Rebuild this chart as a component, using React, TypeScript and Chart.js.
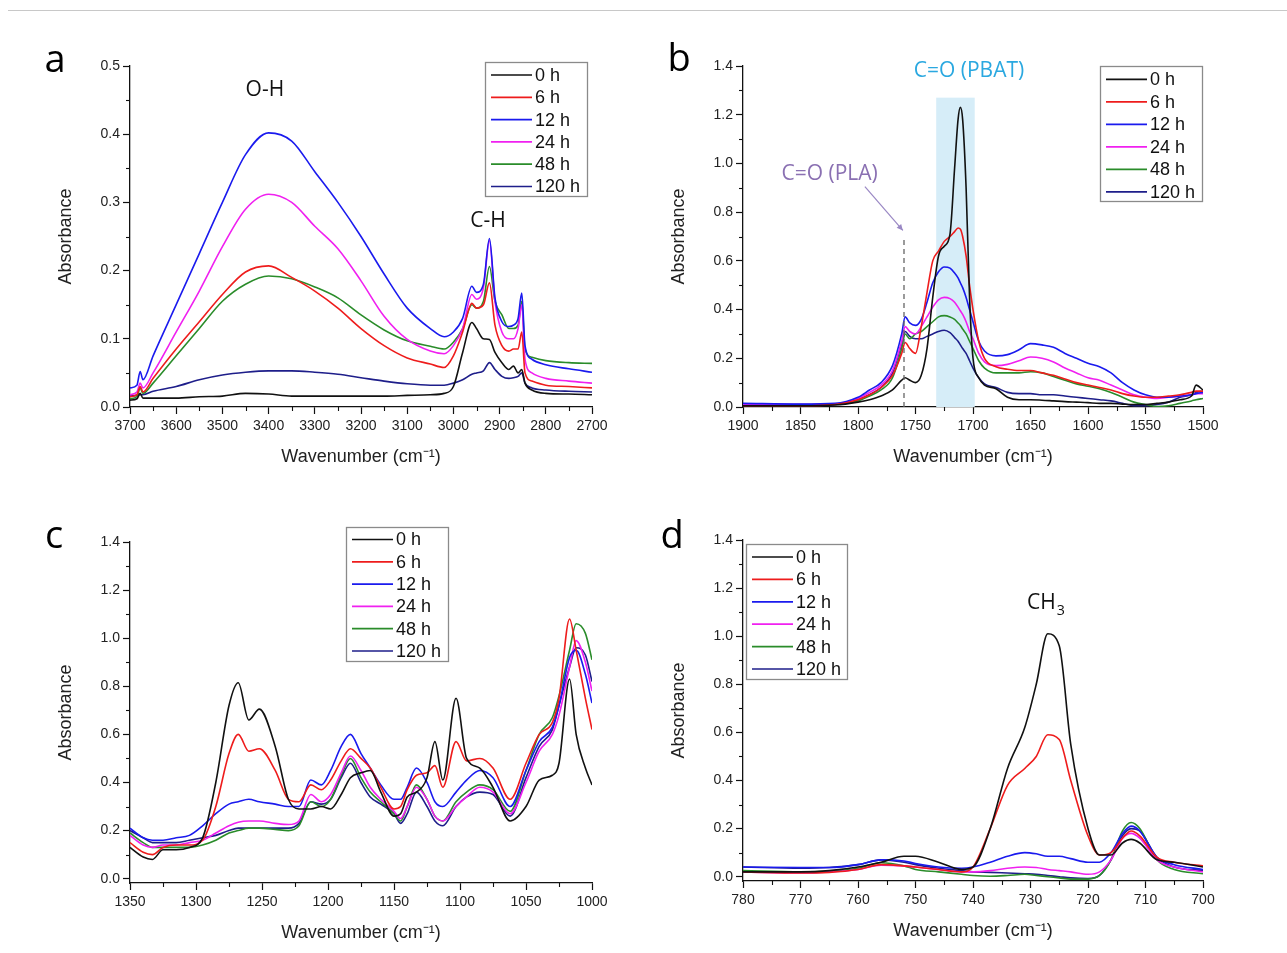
import React, { useEffect, useRef } from 'react';
import { Chart, registerables } from 'chart.js';
Chart.register(...registerables);

const FONT = "'Liberation Sans', Arial, sans-serif";
const ANNOT_FONT = "'Open Sans', 'Noto Sans', sans-serif";

const SERIES_LABELS = ['0 h', '6 h', '12 h', '24 h', '48 h', '120 h'];
const SERIES_COLORS = ['#111111', '#ee1c1c', '#1a1aee', '#f020f0', '#2a8c2a', '#1e1e8a'];

// ---------- Panel a : 3700-2700 cm-1 ----------
const A_WAVENUMBER = [3700, 3685, 3678, 3672, 3650, 3600, 3550, 3500, 3450, 3400, 3350, 3300, 3250, 3200, 3150, 3100, 3050, 3020, 3000, 2980, 2960, 2950, 2935, 2922, 2910, 2895, 2880, 2870, 2860, 2852, 2845, 2830, 2800, 2750, 2700];
const A_0H = [0.01, 0.012, 0.02, 0.013, 0.013, 0.013, 0.015, 0.016, 0.02, 0.019, 0.016, 0.016, 0.016, 0.016, 0.016, 0.017, 0.018, 0.02, 0.03, 0.08, 0.124, 0.115, 0.1, 0.099, 0.08, 0.065, 0.055, 0.06, 0.05, 0.055, 0.035, 0.025, 0.02, 0.019, 0.018];
const A_6H = [0.015, 0.018, 0.03, 0.022, 0.042, 0.085, 0.125, 0.165, 0.198, 0.207, 0.19, 0.17, 0.145, 0.115, 0.09, 0.072, 0.063, 0.058, 0.075, 0.11, 0.152, 0.145, 0.15, 0.182, 0.12, 0.09, 0.082, 0.085, 0.085, 0.11, 0.05, 0.038, 0.032, 0.03, 0.028];
const A_12H = [0.028, 0.032, 0.052, 0.04, 0.075, 0.15, 0.225, 0.3, 0.37, 0.402, 0.39, 0.345, 0.3, 0.25, 0.195, 0.145, 0.115, 0.103, 0.11, 0.13, 0.177, 0.168, 0.18, 0.247, 0.16, 0.125, 0.118, 0.12, 0.13, 0.167, 0.09, 0.07, 0.062, 0.056, 0.051];
const A_24H = [0.018, 0.022, 0.035, 0.028, 0.05, 0.11, 0.17, 0.235, 0.29, 0.312, 0.3, 0.265, 0.232, 0.185, 0.133, 0.099, 0.082, 0.078, 0.09, 0.115, 0.165, 0.158, 0.175, 0.244, 0.155, 0.11, 0.1, 0.1, 0.115, 0.15, 0.07, 0.05, 0.042, 0.038, 0.035];
const A_48H = [0.012, 0.015, 0.028, 0.02, 0.035, 0.075, 0.115, 0.155, 0.18, 0.192, 0.188, 0.176, 0.16, 0.135, 0.113, 0.097, 0.089, 0.085, 0.095, 0.115, 0.15, 0.145, 0.155, 0.206, 0.155, 0.135, 0.115, 0.115, 0.12, 0.155, 0.085, 0.073, 0.068, 0.065, 0.064];
const A_120H = [0.016, 0.017, 0.018, 0.018, 0.023, 0.03, 0.04, 0.047, 0.051, 0.053, 0.053, 0.051, 0.048, 0.043, 0.038, 0.034, 0.032, 0.032, 0.035, 0.04, 0.048, 0.05, 0.053, 0.065, 0.055, 0.045, 0.042, 0.043, 0.045, 0.05, 0.035, 0.028, 0.025, 0.023, 0.022];
const A_X_TICKS = [3700, 3600, 3500, 3400, 3300, 3200, 3100, 3000, 2900, 2800, 2700];
const A_Y_TICKS = [0, 0.1, 0.2, 0.3, 0.4, 0.5];

// ---------- Panel b : 1900-1500 cm-1 ----------
const B_WAVENUMBER = [1900, 1850, 1820, 1800, 1790, 1780, 1770, 1762, 1759, 1755, 1750, 1745, 1740, 1735, 1730, 1725, 1720, 1716, 1713, 1711, 1709, 1706, 1703, 1700, 1695, 1690, 1680, 1670, 1660, 1650, 1640, 1630, 1620, 1610, 1600, 1590, 1580, 1570, 1560, 1550, 1540, 1530, 1520, 1510, 1506, 1500];
const B_0H = [0.005, 0.005, 0.008, 0.02, 0.03, 0.045, 0.07, 0.11, 0.12, 0.11, 0.1, 0.13, 0.24, 0.45, 0.62, 0.66, 0.71, 0.98, 1.18, 1.23, 1.18, 0.9, 0.45, 0.2, 0.12, 0.09, 0.075, 0.04, 0.03, 0.03, 0.028, 0.025, 0.022, 0.02, 0.018, 0.015, 0.015, 0.012, 0.01, 0.01, 0.015, 0.02, 0.03, 0.045, 0.09, 0.07];
const B_6H = [0.005, 0.005, 0.01, 0.03, 0.05, 0.08, 0.13, 0.22, 0.265, 0.24, 0.22, 0.33, 0.47, 0.6, 0.64, 0.68, 0.7, 0.72, 0.735, 0.73, 0.7, 0.62, 0.5, 0.4, 0.27, 0.2, 0.165, 0.155, 0.15, 0.15, 0.14, 0.13, 0.115, 0.1, 0.09, 0.08, 0.07, 0.055, 0.045, 0.04, 0.04, 0.045, 0.05, 0.06, 0.065, 0.065];
const B_12H = [0.015, 0.012, 0.015, 0.04, 0.07, 0.1, 0.17, 0.3, 0.37, 0.345, 0.335, 0.36, 0.43, 0.51, 0.555, 0.575, 0.57, 0.55, 0.53, 0.51, 0.49, 0.45, 0.4, 0.35, 0.27, 0.23, 0.21, 0.215, 0.235, 0.26, 0.255, 0.245, 0.22, 0.2, 0.18, 0.165, 0.14, 0.1, 0.07, 0.05, 0.04, 0.04, 0.045, 0.05, 0.055, 0.06];
const B_24H = [0.01, 0.01, 0.012, 0.035, 0.06, 0.09, 0.15, 0.27, 0.33, 0.31, 0.3, 0.33, 0.37, 0.41, 0.44, 0.45, 0.445, 0.43, 0.41, 0.395, 0.38, 0.35, 0.31, 0.28, 0.22, 0.185, 0.17, 0.175, 0.19, 0.205, 0.2, 0.185, 0.16, 0.14, 0.12, 0.11, 0.09, 0.07, 0.05, 0.04, 0.035, 0.04, 0.045, 0.05, 0.055, 0.055];
const B_48H = [0.008, 0.008, 0.01, 0.025, 0.045, 0.07, 0.12, 0.24, 0.3, 0.28, 0.3, 0.31, 0.33, 0.35, 0.37, 0.375, 0.37, 0.36, 0.345, 0.335, 0.32, 0.3, 0.27, 0.24, 0.19, 0.16, 0.14, 0.14, 0.14, 0.145, 0.14, 0.125, 0.11, 0.095, 0.085, 0.075, 0.06, 0.04, 0.02, 0.01, 0.002, 0.005, 0.015, 0.025, 0.03, 0.035];
const B_120H = [0.01, 0.01, 0.012, 0.03, 0.05, 0.08, 0.14, 0.26, 0.31, 0.29, 0.28, 0.28, 0.29, 0.3, 0.31, 0.315, 0.305, 0.285, 0.27, 0.255, 0.24, 0.22, 0.19, 0.16, 0.12, 0.095, 0.08, 0.06, 0.055, 0.055, 0.05, 0.05, 0.045, 0.04, 0.035, 0.03, 0.025, 0.015, 0.005, 0.005, 0.01, 0.02, 0.04, 0.05, 0.06, 0.065];
const B_X_TICKS = [1900, 1850, 1800, 1750, 1700, 1650, 1600, 1550, 1500];
const B_Y_TICKS = [0, 0.2, 0.4, 0.6, 0.8, 1.0, 1.2, 1.4];
const B_PBAT_BAND = [1732, 1698.5];
const B_PBAT_BAND_TOP = 1.27;
const B_PLA_LINE = 1760;
const B_PLA_LINE_TOP = 0.7;

// ---------- Panel c : 1350-1000 cm-1 ----------
const C_WAVENUMBER = [1350, 1340, 1333, 1325, 1315, 1305, 1295, 1285, 1275, 1268, 1260, 1252, 1240, 1230, 1222, 1213, 1205, 1198, 1190, 1183, 1175, 1168, 1160, 1150, 1145, 1140, 1133, 1125, 1119, 1113, 1103, 1095, 1085, 1075, 1062, 1050, 1040, 1030, 1025, 1017, 1012, 1005, 1000];
const C_0H = [0.13, 0.09, 0.08, 0.12, 0.12, 0.13, 0.17, 0.4, 0.72, 0.815, 0.66, 0.705, 0.55, 0.33, 0.29, 0.29, 0.3, 0.29, 0.35, 0.42, 0.44, 0.45, 0.36, 0.26, 0.27, 0.34, 0.36, 0.42, 0.57, 0.41, 0.75, 0.5, 0.46, 0.38, 0.24, 0.3, 0.41, 0.43, 0.48, 0.83, 0.6, 0.46, 0.39];
const C_6H = [0.15, 0.11, 0.1, 0.13, 0.14, 0.14, 0.16, 0.3, 0.52, 0.6, 0.53, 0.54, 0.45, 0.33, 0.32, 0.39, 0.37, 0.41, 0.49, 0.54, 0.5, 0.46, 0.38, 0.29, 0.3, 0.37, 0.43, 0.44, 0.47, 0.38, 0.57, 0.49, 0.5, 0.46, 0.33, 0.48, 0.6, 0.65, 0.75, 1.08, 0.95, 0.75, 0.62];
const C_12H = [0.21, 0.17, 0.16, 0.16, 0.17, 0.18, 0.22, 0.27, 0.31, 0.32, 0.33, 0.32, 0.31, 0.3, 0.3, 0.41, 0.39, 0.45, 0.55, 0.6, 0.52, 0.46, 0.39, 0.33, 0.33, 0.38, 0.46, 0.4, 0.32, 0.3, 0.36, 0.41, 0.45, 0.42, 0.3, 0.45, 0.57, 0.63, 0.72, 0.92, 0.95, 0.85, 0.73];
const C_24H = [0.18, 0.14, 0.13, 0.14, 0.14, 0.15, 0.16, 0.19, 0.22, 0.235, 0.24, 0.24, 0.23, 0.225, 0.24, 0.35, 0.32, 0.35, 0.44, 0.51, 0.45, 0.38, 0.33, 0.28, 0.25, 0.3, 0.38, 0.33, 0.26, 0.24, 0.3, 0.34, 0.38, 0.36, 0.27, 0.4, 0.53, 0.6, 0.68, 0.88, 0.99, 0.9, 0.78];
const C_48H = [0.19, 0.15, 0.13, 0.13, 0.13, 0.13, 0.14, 0.16, 0.19, 0.2, 0.21, 0.21, 0.205, 0.2, 0.22, 0.32, 0.3, 0.33, 0.43, 0.5, 0.42, 0.36, 0.32, 0.27, 0.24, 0.3, 0.39, 0.33, 0.26, 0.24, 0.32, 0.36, 0.39, 0.37, 0.28, 0.45, 0.6, 0.67, 0.76, 0.95, 1.06, 1.02, 0.91];
const C_120H = [0.2, 0.17, 0.15, 0.15, 0.15, 0.16, 0.17, 0.18, 0.2, 0.21, 0.21, 0.21, 0.21, 0.21, 0.23, 0.32, 0.31, 0.33, 0.42, 0.48, 0.4, 0.34, 0.31, 0.27, 0.23, 0.27, 0.36, 0.3, 0.24, 0.22, 0.3, 0.34, 0.36, 0.35, 0.26, 0.42, 0.55, 0.62, 0.72, 0.88, 0.96, 0.93, 0.82];
const C_X_TICKS = [1350, 1300, 1250, 1200, 1150, 1100, 1050, 1000];
const C_Y_TICKS = [0, 0.2, 0.4, 0.6, 0.8, 1.0, 1.2, 1.4];

// ---------- Panel d : 780-700 cm-1 ----------
const D_WAVENUMBER = [780, 770, 765, 760, 756, 752, 750, 746, 742, 740, 737, 734, 731, 729, 727, 725, 723, 720, 718, 716, 714, 712.5, 711, 708, 705, 700];
const D_0H = [0.02, 0.02, 0.025, 0.04, 0.06, 0.085, 0.085, 0.06, 0.03, 0.04, 0.2, 0.45, 0.62, 0.8, 1.01, 0.96, 0.55, 0.2, 0.09, 0.09, 0.14, 0.155, 0.14, 0.07, 0.06, 0.04];
const D_6H = [0.02, 0.015, 0.018, 0.03, 0.05, 0.045, 0.04, 0.03, 0.02, 0.04, 0.2, 0.38, 0.45, 0.5, 0.59, 0.57, 0.4, 0.17, 0.09, 0.1, 0.16, 0.19, 0.17, 0.08, 0.06, 0.045];
const D_12H = [0.04, 0.038, 0.038, 0.05, 0.07, 0.065, 0.055, 0.04, 0.035, 0.04, 0.06, 0.085, 0.1, 0.095, 0.085, 0.085, 0.075, 0.06, 0.06, 0.1, 0.18, 0.21, 0.19, 0.08, 0.05, 0.03];
const D_24H = [0.02, 0.015, 0.02, 0.03, 0.048, 0.045, 0.04, 0.03, 0.02, 0.02, 0.025, 0.035, 0.04, 0.038, 0.03, 0.025, 0.02, 0.01, 0.02, 0.07, 0.16, 0.18, 0.16, 0.07, 0.04, 0.02];
const D_48H = [0.025, 0.02, 0.022, 0.035, 0.058, 0.045, 0.03, 0.02, 0.01, 0.005, 0.002, 0.005, 0.01, 0.005, 0.0, -0.005, -0.01, -0.01, 0.005, 0.07, 0.19, 0.225, 0.2, 0.07, 0.03, 0.012];
const D_120H = [0.04, 0.035, 0.038, 0.05, 0.07, 0.06, 0.05, 0.035, 0.025, 0.02, 0.018, 0.015, 0.012, 0.01, 0.005, 0.0, -0.005, -0.008, 0.005, 0.07, 0.17, 0.2, 0.19, 0.08, 0.04, 0.025];
const D_X_TICKS = [780, 770, 760, 750, 740, 730, 720, 710, 700];
const D_Y_TICKS = [0, 0.2, 0.4, 0.6, 0.8, 1.0, 1.2, 1.4];

const minorBetween = (majors: number[]) => {
  const out: number[] = [];
  for (let i = 0; i < majors.length - 1; i++) out.push((majors[i] + majors[i + 1]) / 2);
  return out;
};

const decorPlugin = {
  id: 'decor',
  beforeDatasetsDraw(chart: any, _a: any, opts: any) {
    const { ctx } = chart;
    const xs = chart.scales.x, ys = chart.scales.y;
    if (opts.band) {
      const x1 = xs.getPixelForValue(opts.band.from), x2 = xs.getPixelForValue(opts.band.to);
      const y1 = ys.getPixelForValue(opts.band.top), y2 = ys.getPixelForValue(0);
      ctx.save();
      ctx.fillStyle = '#d6edf8';
      ctx.fillRect(Math.min(x1, x2), y1, Math.abs(x2 - x1), y2 - y1);
      ctx.restore();
    }
  },
  afterDatasetsDraw(chart: any, _a: any, opts: any) {
    const { ctx } = chart;
    const xs = chart.scales.x, ys = chart.scales.y;
    ctx.save();
    if (opts.vline) {
      const x = xs.getPixelForValue(opts.vline.x);
      ctx.strokeStyle = '#666';
      ctx.lineWidth = 1.3;
      ctx.setLineDash([5, 4]);
      ctx.beginPath();
      ctx.moveTo(x, ys.getPixelForValue(0));
      ctx.lineTo(x, ys.getPixelForValue(opts.vline.top));
      ctx.stroke();
      ctx.setLineDash([]);
    }
    if (opts.arrow) {
      const a = opts.arrow;
      const x1 = xs.getPixelForValue(a.x1), y1 = ys.getPixelForValue(a.y1);
      const x2 = xs.getPixelForValue(a.x2), y2 = ys.getPixelForValue(a.y2);
      ctx.strokeStyle = a.color; ctx.fillStyle = a.color; ctx.lineWidth = 1.2;
      ctx.beginPath(); ctx.moveTo(x1, y1); ctx.lineTo(x2, y2); ctx.stroke();
      const ang = Math.atan2(y2 - y1, x2 - x1);
      const L = 6, W = 3;
      ctx.beginPath();
      ctx.moveTo(x2, y2);
      ctx.lineTo(x2 - L * Math.cos(ang) + W * Math.sin(ang), y2 - L * Math.sin(ang) - W * Math.cos(ang));
      ctx.lineTo(x2 - L * Math.cos(ang) - W * Math.sin(ang), y2 - L * Math.sin(ang) + W * Math.cos(ang));
      ctx.closePath(); ctx.fill();
    }
    ctx.restore();
  },
  afterDraw(chart: any, _a: any, opts: any) {
    const { ctx, chartArea } = chart;
    const xs = chart.scales.x, ys = chart.scales.y;
    ctx.save();
    // minor ticks
    ctx.strokeStyle = '#111'; ctx.lineWidth = 1.1;
    (opts.minorX || []).forEach((v: number) => {
      const x = Math.round(xs.getPixelForValue(v)) + 0.5;
      ctx.beginPath(); ctx.moveTo(x, chartArea.bottom); ctx.lineTo(x, chartArea.bottom + 4); ctx.stroke();
    });
    (opts.minorY || []).forEach((v: number) => {
      const y = Math.round(ys.getPixelForValue(v)) + 0.5;
      ctx.beginPath(); ctx.moveTo(chartArea.left, y); ctx.lineTo(chartArea.left - 4, y); ctx.stroke();
    });
    // annotations (data coordinates)
    (opts.texts || []).forEach((t: any) => {
      const x = xs.getPixelForValue(t.x), y = ys.getPixelForValue(t.y);
      ctx.fillStyle = t.color;
      ctx.font = `${t.size}px ${ANNOT_FONT}`;
      ctx.textBaseline = 'middle';
      if (t.sub) {
        const w1 = ctx.measureText(t.text).width;
        ctx.font = `${t.size * 0.68}px ${ANNOT_FONT}`;
        const w2 = ctx.measureText(t.sub).width;
        const x0 = x - (w1 + w2) / 2;
        ctx.font = `${t.size}px ${ANNOT_FONT}`;
        ctx.textAlign = 'left';
        ctx.fillText(t.text, x0, y);
        ctx.font = `${t.size * 0.68}px ${ANNOT_FONT}`;
        ctx.fillText(t.sub, x0 + w1 + 1, y + t.size * 0.35);
      } else {
        ctx.textAlign = 'center';
        ctx.fillText(t.text, x, y);
      }
    });
    // legend box
    if (opts.legendBox) {
      const lb = opts.legendBox;
      const bx = chartArea.left + lb.dx, by = chartArea.top + lb.dy;
      ctx.fillStyle = '#ffffff';
      ctx.fillRect(bx, by, lb.w, lb.h);
      ctx.strokeStyle = '#8a8a8a'; ctx.lineWidth = 1.3;
      ctx.strokeRect(bx + 0.5, by + 0.5, lb.w, lb.h);
      ctx.font = `18px ${FONT}`;
      ctx.textBaseline = 'middle'; ctx.textAlign = 'left';
      chart.data.datasets.forEach((ds: any, i: number) => {
        const cy = by + lb.first + i * lb.row;
        ctx.strokeStyle = ds.borderColor; ctx.lineWidth = 1.7;
        ctx.beginPath(); ctx.moveTo(bx + 6, cy); ctx.lineTo(bx + 47, cy); ctx.stroke();
        ctx.fillStyle = '#111';
        ctx.fillText(ds.label, bx + 50, cy + 1);
      });
    }
    // panel letter
    if (opts.letter) {
      ctx.fillStyle = '#000';
      ctx.font = `38px ${ANNOT_FONT}`;
      ctx.textAlign = 'center'; ctx.textBaseline = 'alphabetic';
      ctx.fillText(opts.letter.text, opts.letter.x, opts.letter.y);
    }
    ctx.restore();
  },
};

type PanelCfg = {
  box: { x: number; y: number; w: number; h: number };
  pad: { left: number; top: number; right: number; bottom: number };
  xs: number[];
  series: number[][];
  xMin: number; xMax: number; yMin: number; yMax: number;
  xTicks: number[]; yTicks: number[];
  decor: any;
};

const PANELS: PanelCfg[] = [
  {
    box: { x: 0, y: 30, w: 640, h: 450 },
    pad: { left: 55, top: 36, right: 48, bottom: 8 },
    xs: A_WAVENUMBER, series: [A_0H, A_6H, A_12H, A_24H, A_48H, A_120H],
    xMin: 2700, xMax: 3700, yMin: 0, yMax: 0.5,
    xTicks: A_X_TICKS, yTicks: A_Y_TICKS,
    decor: {
      minorX: minorBetween(A_X_TICKS), minorY: minorBetween(A_Y_TICKS),
      texts: [
        { text: 'O-H', x: 3408, y: 0.465, size: 21, color: '#111' },
        { text: 'C-H', x: 2925, y: 0.273, size: 21, color: '#111' },
      ],
      legendBox: { dx: 355, dy: -4, w: 102, h: 134, first: 13, row: 22.3 },
      letter: { text: 'a', x: 55, y: 42 },
    },
  },
  {
    box: { x: 640, y: 30, w: 647, h: 450 },
    pad: { left: 28, top: 36, right: 84, bottom: 8 },
    xs: B_WAVENUMBER, series: [B_0H, B_6H, B_12H, B_24H, B_48H, B_120H],
    xMin: 1500, xMax: 1900, yMin: 0, yMax: 1.4,
    xTicks: B_X_TICKS, yTicks: B_Y_TICKS,
    decor: {
      minorX: minorBetween(B_X_TICKS), minorY: minorBetween(B_Y_TICKS),
      band: { from: B_PBAT_BAND[0], to: B_PBAT_BAND[1], top: B_PBAT_BAND_TOP },
      vline: { x: B_PLA_LINE, top: B_PLA_LINE_TOP },
      arrow: { x1: 1794, y1: 0.905, x2: 1761, y2: 0.725, color: '#9a88c4' },
      texts: [
        { text: 'C=O (PBAT)', x: 1703.5, y: 1.379, size: 21, color: '#2aa8e0' },
        { text: 'C=O (PLA)', x: 1824.7, y: 0.957, size: 21, color: '#8a70b2' },
      ],
      legendBox: { dx: 357, dy: 0, w: 102, h: 135, first: 13.3, row: 22.5 },
      letter: { text: 'b', x: 39, y: 41 },
    },
  },
  {
    box: { x: 0, y: 500, w: 640, h: 453 },
    pad: { left: 55, top: 42, right: 48, bottom: 5 },
    xs: C_WAVENUMBER, series: [C_0H, C_6H, C_12H, C_24H, C_48H, C_120H],
    xMin: 1000, xMax: 1350, yMin: -0.018, yMax: 1.4,
    xTicks: C_X_TICKS, yTicks: C_Y_TICKS,
    decor: {
      minorX: minorBetween(C_X_TICKS), minorY: minorBetween(C_Y_TICKS),
      texts: [],
      legendBox: { dx: 216, dy: -15, w: 102, h: 134, first: 12.5, row: 22.3 },
      letter: { text: 'c', x: 54, y: 48 },
    },
  },
  {
    box: { x: 640, y: 500, w: 647, h: 453 },
    pad: { left: 28, top: 40, right: 84, bottom: 7 },
    xs: D_WAVENUMBER, series: [D_0H, D_6H, D_12H, D_24H, D_48H, D_120H],
    xMin: 700, xMax: 780, yMin: -0.018, yMax: 1.4,
    xTicks: D_X_TICKS, yTicks: D_Y_TICKS,
    decor: {
      minorX: minorBetween(D_X_TICKS), minorY: minorBetween(D_Y_TICKS),
      texts: [{ text: 'CH', sub: '3', x: 727.4, y: 1.137, size: 21, color: '#111' }],
      legendBox: { dx: 3, dy: 4, w: 101, h: 135, first: 13, row: 22.4 },
      letter: { text: 'd', x: 32, y: 48 },
    },
  },
];

function buildConfig(p: PanelCfg): any {
  const tickFont = { family: FONT, size: 14 };
  const titleFont = { family: FONT, size: 18 };
  const grid = {
    display: true, drawOnChartArea: false, drawTicks: true, tickLength: 7,
    tickColor: '#111', tickWidth: 1.2, color: '#111',
  };
  return {
    type: 'line',
    data: {
      datasets: p.series.map((vals, i) => ({
        label: SERIES_LABELS[i],
        data: p.xs.map((x, j) => ({ x, y: vals[j] })),
        borderColor: SERIES_COLORS[i],
        backgroundColor: SERIES_COLORS[i],
        borderWidth: 1.6,
        pointRadius: 0,
        fill: false,
        cubicInterpolationMode: 'monotone',
      })),
    },
    options: {
      animation: false,
      responsive: false,
      events: [],
      layout: { padding: p.pad },
      plugins: { legend: { display: false }, tooltip: { enabled: false }, decor: p.decor },
      scales: {
        x: {
          type: 'linear', reverse: true, min: p.xMin, max: p.xMax,
          afterBuildTicks: (s: any) => { s.ticks = p.xTicks.map((v) => ({ value: v })); },
          afterFit: (s: any) => { s.height = 65; },
          ticks: { font: tickFont, color: '#222', padding: 4, maxRotation: 0, autoSkip: false, callback: (v: any) => String(v) },
          grid,
          border: { display: true, color: '#111', width: 1.3 },
          title: { display: true, text: 'Wavenumber (cm\u207B\u00B9)', font: titleFont, color: '#222', padding: { top: 0, bottom: 4 } },
        },
        y: {
          type: 'linear', min: p.yMin, max: p.yMax,
          afterBuildTicks: (s: any) => { s.ticks = p.yTicks.map((v) => ({ value: v })); },
          afterFit: (s: any) => { s.width = 75; },
          ticks: { font: tickFont, color: '#222', padding: 3, autoSkip: false, callback: (v: any) => Number(v).toFixed(1) },
          grid,
          border: { display: true, color: '#111', width: 1.3 },
          title: { display: true, text: 'Absorbance', font: titleFont, color: '#222', padding: { top: 0, bottom: 0 } },
        },
      },
    },
    plugins: [decorPlugin],
  };
}

function Panel({ p }: { p: PanelCfg }) {
  const ref = useRef<HTMLCanvasElement | null>(null);
  useEffect(() => {
    if (!ref.current) return;
    const chart = new Chart(ref.current, buildConfig(p));
    return () => chart.destroy();
  }, [p]);
  return (
    <canvas
      ref={ref}
      width={p.box.w}
      height={p.box.h}
      style={{ position: 'absolute', left: p.box.x, top: p.box.y, width: p.box.w, height: p.box.h }}
    />
  );
}

export default function App() {
  return (
    <div style={{ position: 'fixed', left: 0, top: 0, width: 1287, height: 953, background: '#ffffff', overflow: 'hidden' }}>
      <div style={{ position: 'absolute', left: 8, top: 10, width: 1279, height: 1, background: '#c8c8c8' }} />
      {PANELS.map((p, i) => (
        <Panel key={i} p={p} />
      ))}
    </div>
  );
}
